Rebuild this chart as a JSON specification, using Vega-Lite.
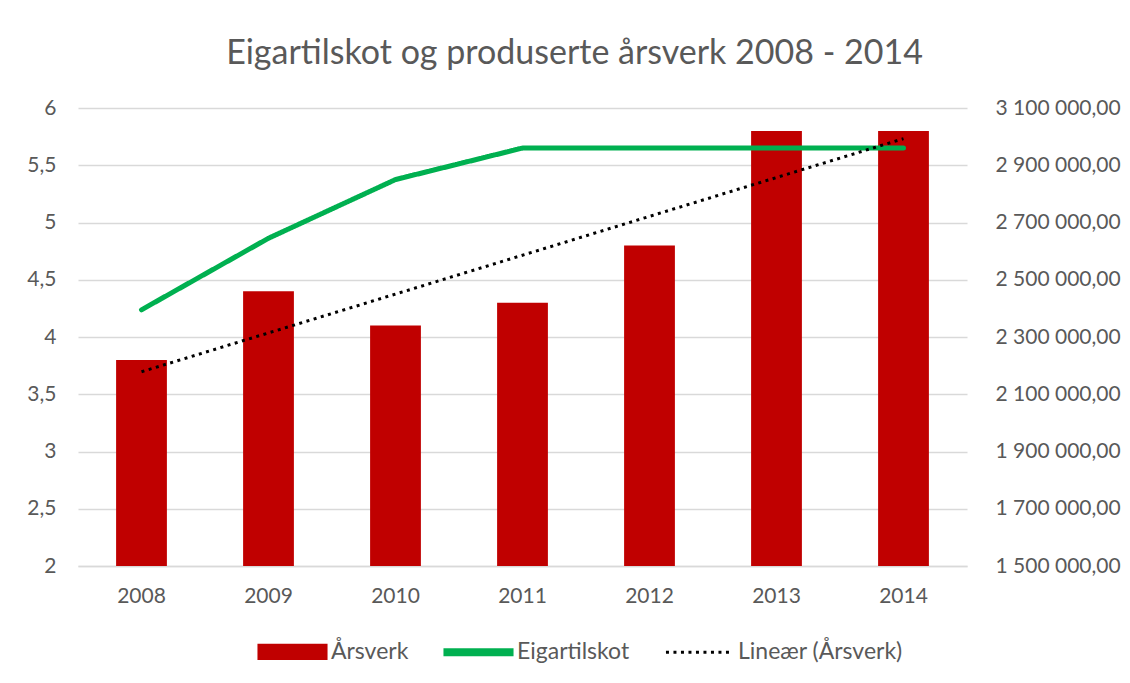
{
  "$schema": "https://vega.github.io/schema/vega-lite/v6.json",
  "width": 889,
  "height": 458,
  "autosize": {"type": "none"},
  "padding": {"left": 78, "top": 108, "right": 163, "bottom": 117},
  "background": "white",
  "title": {
    "text": "Eigartilskot og produserte årsverk 2008 - 2014",
    "font": "Lato",
    "fontSize": 34,
    "fontWeight": "normal",
    "color": "#595959",
    "dx": 52,
    "offset": 26
  },
  "data": {
    "values": [
      {"year": 2008, "arsverk": 3.8, "eigartilskot": 2395000},
      {"year": 2009, "arsverk": 4.4, "eigartilskot": 2645000},
      {"year": 2010, "arsverk": 4.1, "eigartilskot": 2850000},
      {"year": 2011, "arsverk": 4.3, "eigartilskot": 2960000},
      {"year": 2012, "arsverk": 4.8, "eigartilskot": 2960000},
      {"year": 2013, "arsverk": 5.8, "eigartilskot": 2960000},
      {"year": 2014, "arsverk": 5.8, "eigartilskot": 2960000}
    ]
  },
  "layer": [
    {
      "mark": {"type": "bar", "color": "#C00000"},
      "encoding": {
        "x": {
          "field": "year",
          "type": "ordinal",
          "scale": {"paddingInner": 0.6, "paddingOuter": 0.3},
          "axis": {
            "title": null,
            "labelAngle": 0,
            "labelPadding": 19,
            "domain": true,
            "domainColor": "#D9D9D9",
            "domainWidth": 1.3,
            "ticks": false,
            "grid": false
          }
        },
        "y": {
          "field": "arsverk",
          "type": "quantitative",
          "scale": {"domain": [2, 6], "zero": false, "nice": false},
          "axis": {
            "orient": "left",
            "title": null,
            "values": [2, 2.5, 3, 3.5, 4, 4.5, 5, 5.5, 6],
            "format": ".1~f",
            "labelPadding": 22,
            "domain": false,
            "ticks": false,
            "grid": true,
            "gridColor": "#D9D9D9",
            "gridWidth": 1.3
          }
        },
        "y2": {"datum": 2},
        "color": {
          "datum": "Årsverk",
          "type": "nominal",
          "scale": {
            "domain": ["Årsverk", "Eigartilskot", "Lineær (Årsverk)"],
            "range": ["#C00000", "#00B050", "#000000"]
          },
          "legend": {
            "title": null,
            "orient": "none",
            "direction": "horizontal",
            "legendX": 179,
            "legendY": 508,
            "symbolType": "stroke",
            "symbolSize": 4500,
            "symbolStrokeWidth": 3,
            "labelFontSize": 23,
            "labelFont": "Lato",
            "labelColor": "#595959",
            "labelOffset": 3,
            "labelLimit": 300,
            "columnPadding": 29,
            "encode": {
              "symbols": {
                "update": {
                  "shape": {"signal": "datum.value === 'Årsverk' ? 'M-1,-0.2H1V0.2H-1Z' : datum.value === 'Eigartilskot' ? 'M-1,-0.075H1V0.075H-1Z' : 'stroke'"},
                  "fill": {"signal": "datum.value === 'Årsverk' ? '#C00000' : datum.value === 'Eigartilskot' ? '#00B050' : null"},
                  "stroke": {"signal": "datum.value === 'Lineær (Årsverk)' ? '#000000' : null"}
                }
              }
            }
          }
        },
        "strokeDash": {
          "datum": "Årsverk",
          "type": "nominal",
          "scale": {
            "domain": ["Årsverk", "Eigartilskot", "Lineær (Årsverk)"],
            "range": [[1, 0], [1, 0], [3, 4.5]]
          }
        }
      }
    },
    {
      "mark": {"type": "line", "strokeWidth": 5, "strokeCap": "round", "strokeJoin": "round"},
      "encoding": {
        "x": {"field": "year", "type": "ordinal"},
        "y": {
          "field": "eigartilskot",
          "type": "quantitative",
          "scale": {"domain": [1500000, 3100000], "zero": false, "nice": false},
          "axis": {
            "orient": "right",
            "title": null,
            "values": [1500000, 1700000, 1900000, 2100000, 2300000, 2500000, 2700000, 2900000, 3100000],
            "format": ",.2f",
            "labelPadding": 28,
            "domain": false,
            "ticks": false,
            "grid": false
          }
        },
        "color": {"datum": "Eigartilskot", "type": "nominal"},
        "strokeDash": {"datum": "Eigartilskot", "type": "nominal"}
      }
    },
    {
      "transform": [{"regression": "arsverk", "on": "year"}],
      "mark": {"type": "line", "strokeWidth": 3, "strokeCap": "butt"},
      "encoding": {
        "x": {"field": "year", "type": "ordinal"},
        "y": {
          "field": "arsverk",
          "type": "quantitative",
          "scale": {"domain": [2, 6], "zero": false, "nice": false},
          "axis": null
        },
        "color": {"datum": "Lineær (Årsverk)", "type": "nominal"},
        "strokeDash": {"datum": "Lineær (Årsverk)", "type": "nominal"}
      }
    }
  ],
  "resolve": {"scale": {"y": "independent"}},
  "config": {
    "locale": {
      "number": {
        "decimal": ",",
        "thousands": " ",
        "grouping": [3],
        "currency": ["", ""]
      }
    },
    "view": {"stroke": null},
    "axis": {
      "labelFont": "Lato",
      "labelFontSize": 21,
      "labelColor": "#595959"
    }
  }
}
